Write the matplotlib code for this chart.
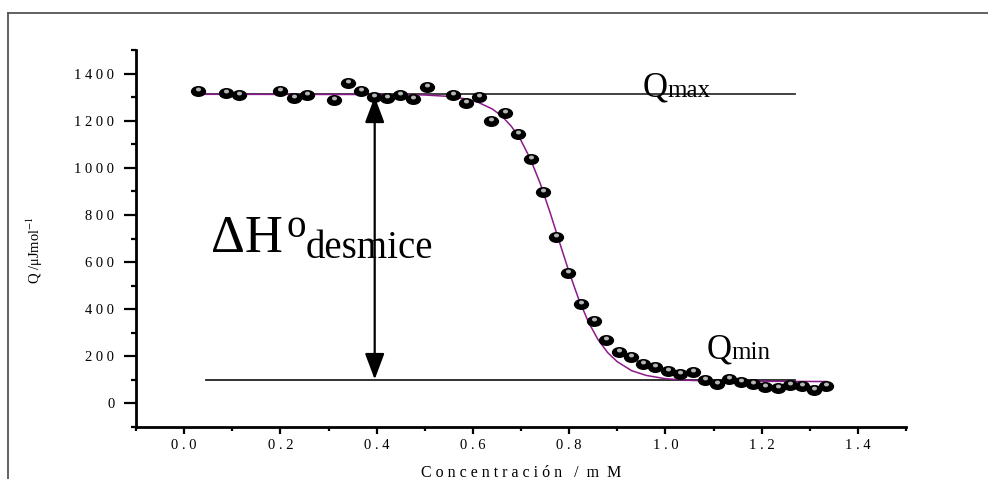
import matplotlib
matplotlib.use("Agg")
import matplotlib.pyplot as plt
from matplotlib.path import Path
from matplotlib.transforms import Affine2D, offset_copy
from matplotlib.lines import Line2D
from matplotlib.ticker import FixedLocator, MultipleLocator

plt.rcParams['font.family'] = ['Liberation Serif', 'DejaVu Serif']
plt.rcParams['mathtext.fontset'] = 'stix'

# measured points
conc = [0.028, 0.086, 0.114, 0.200, 0.228, 0.256, 0.311, 0.340, 0.367, 0.394,
        0.422, 0.448, 0.476, 0.504, 0.559, 0.585, 0.613, 0.638, 0.666, 0.694,
        0.720, 0.746, 0.773, 0.798, 0.824, 0.852, 0.877, 0.903, 0.928, 0.954,
        0.979, 1.005, 1.030, 1.057, 1.082, 1.107, 1.133, 1.158, 1.183, 1.208,
        1.233, 1.258, 1.283, 1.308, 1.333]
Q = [1324, 1318, 1307, 1324, 1295, 1307, 1287, 1359, 1326, 1301,
     1298, 1307, 1294, 1343, 1311, 1277, 1302, 1199, 1232, 1142,
     1036, 897, 708, 553, 422, 351, 268, 217, 197, 166,
     154, 137, 126, 132, 98, 82, 102, 93, 82, 69,
     67, 79, 72, 58, 76]

# fitted curve
fit_x = [0.03, 0.45, 0.50, 0.55, 0.58, 0.61, 0.64, 0.66, 0.68, 0.70, 0.72, 0.74,
         0.76, 0.78, 0.80, 0.82, 0.84, 0.86, 0.88, 0.90, 0.93, 0.96, 1.00, 1.05,
         1.10, 1.20, 1.335]
fit_y = [1312, 1311, 1309, 1303, 1294, 1279, 1250, 1220, 1176, 1116, 1035, 933,
         813, 684, 557, 442, 346, 271, 216, 177, 139, 119, 105, 98,
         95, 94, 93]

qmax = 1312
qmin = 100
qmax_x = [0.028, 1.27]
qmin_x = [0.046, 1.27]
arrow_x = 0.396

xticks = [0.0, 0.2, 0.4, 0.6, 0.8, 1.0, 1.2, 1.4]
xtick_labels = ["0.0", "0.2", "0.4", "0.6", "0.8", "1.0", "1.2", "1.4"]
yticks = [0, 200, 400, 600, 800, 1000, 1200, 1400]
ytick_labels = ["0", "200", "400", "600", "800", "1000", "1200", "1400"]

fig = plt.figure(figsize=(9.88, 4.79), dpi=100)
ax = fig.add_axes([136 / 988, 1 - 427 / 479, 770 / 988, 377 / 479])

ax.plot(qmax_x, [qmax, qmax], color='#333333', lw=1.3, zorder=2)
ax.plot(qmin_x, [qmin, qmin], color='#222222', lw=1.3, zorder=2)
ax.plot(fit_x, fit_y, color='#8B1A8B', lw=1.1, zorder=3)

ax.annotate('', xy=(arrow_x, qmax - 10), xytext=(arrow_x, qmin + 2),
            arrowprops=dict(arrowstyle='<|-|>,head_length=0.8,head_width=0.3',
                            mutation_scale=20, color='black', lw=1.6,
                            shrinkA=0, shrinkB=0), zorder=2)

# ball-like markers
ell = Path.unit_circle().transformed(Affine2D().scale(1.45, 1.0))
ax.plot(conc, Q, ls='none', marker=ell, ms=10, color='black', zorder=4)
hl = offset_copy(ax.transData, fig=fig, x=0, y=2, units='dots')
ax.plot(conc, Q, ls='none', marker=ell, ms=2.6, color='#b5b5b5',
        transform=hl, zorder=5)

ax.text(0.055, 641, 'ΔH', fontsize=38, va='baseline', ha='left')
ax.text(0.213, 708, 'o', fontsize=28, va='baseline', ha='left')
ax.text(0.252, 616, 'desmice', fontsize=28, va='baseline', ha='left')
ax.text(0.953, 1304, 'Q', fontsize=25, va='baseline', ha='left')
ax.text(1.005, 1300, 'max', fontsize=18, va='baseline', ha='left')
ax.text(1.086, 190, 'Q', fontsize=25, va='baseline', ha='left')
ax.text(1.137, 190, 'min', fontsize=18, va='baseline', ha='left')

ax.set_xlim(-0.1, 1.5)
ax.set_ylim(-100, 1500)
ax.xaxis.set_major_locator(FixedLocator(xticks))
ax.set_xticklabels([' '.join(s) for s in xtick_labels])
ax.xaxis.set_minor_locator(MultipleLocator(0.1))
ax.yaxis.set_major_locator(FixedLocator(yticks))
ax.set_yticklabels([' '.join(s) for s in ytick_labels])
ax.yaxis.set_minor_locator(MultipleLocator(100))

for s in ['top', 'right']:
    ax.spines[s].set_visible(False)
for s in ['left', 'bottom']:
    ax.spines[s].set_linewidth(2)
ax.tick_params(axis='x', which='major', length=5, width=1.6, labelsize=10.5, pad=3.5)
ax.tick_params(axis='x', which='minor', length=3, width=1.6)
ax.tick_params(axis='y', which='major', length=8.6, width=1.6, labelsize=10.5, pad=7)
ax.tick_params(axis='y', which='minor', length=3.6, width=1.6)

ax.set_xlabel('C o n c e n t r a c i ó n   /  m  M', fontsize=11.5)
ax.xaxis.set_label_coords(0.5, -0.1)
ax.set_ylabel('Q /μJmol$^{-1}$', fontsize=10.5)
ax.yaxis.set_label_coords(-0.118, 0.47)

# outer frame
fig.add_artist(Line2D([8 / 988, 1.0], [1 - 12.5 / 479] * 2, color='#555555', lw=1.3))
fig.add_artist(Line2D([8 / 988] * 2, [0.0, 1 - 12.5 / 479], color='#555555', lw=1.3))

fig.savefig('out.png', dpi=100)
